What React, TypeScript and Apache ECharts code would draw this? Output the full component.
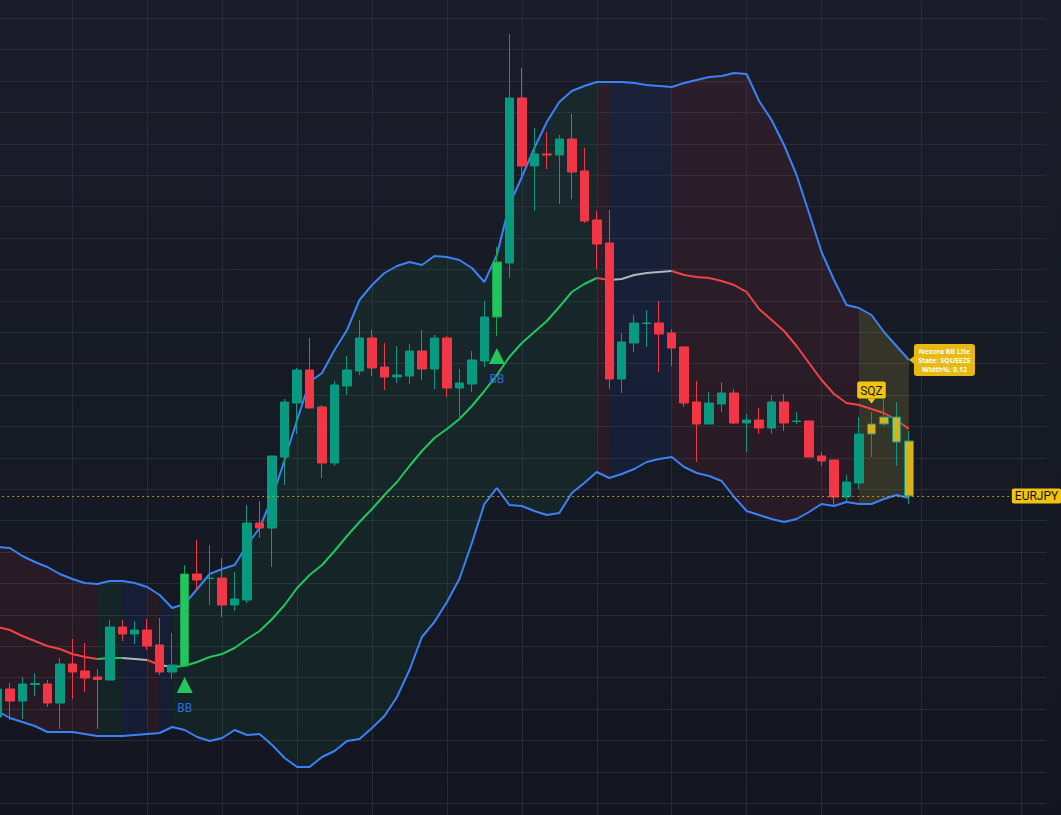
import React, { useEffect, useRef } from "react";
import * as echarts from "echarts";

// ---- categories (bar numbers, first bar is partially off-screen) ----
const categories: string[] = Array.from({ length: 85 }, (_, k) => String(k - 1));

// ---- OHLC: [open, close, low, high] (EURJPY) ----
const ohlc: number[][] = [
  [161.566, 161.622, 161.556, 161.640],
  [161.622, 161.598, 161.560, 161.634],
  [161.598, 161.632, 161.562, 161.646],
  [161.631, 161.633, 161.608, 161.654],
  [161.632, 161.594, 161.586, 161.640],
  [161.594, 161.672, 161.542, 161.684],
  [161.672, 161.656, 161.602, 161.722],
  [161.658, 161.644, 161.616, 161.714],
  [161.646, 161.641, 161.542, 161.662],
  [161.640, 161.746, 161.640, 161.760],
  [161.746, 161.732, 161.718, 161.760],
  [161.732, 161.740, 161.712, 161.758],
  [161.740, 161.708, 161.700, 161.762],
  [161.710, 161.656, 161.650, 161.764],
  [161.656, 161.670, 161.642, 161.734],
  [161.668, 161.852, 161.666, 161.870],
  [161.852, 161.840, 161.820, 161.920],
  [161.843, 161.844, 161.790, 161.910],
  [161.844, 161.790, 161.766, 161.884],
  [161.790, 161.802, 161.778, 161.856],
  [161.800, 161.954, 161.794, 161.990],
  [161.954, 161.944, 161.924, 161.998],
  [161.944, 162.088, 161.866, 162.088],
  [162.086, 162.196, 162.030, 162.202],
  [162.194, 162.260, 162.132, 162.264],
  [162.260, 162.184, 162.184, 162.324],
  [162.186, 162.074, 162.044, 162.190],
  [162.074, 162.230, 162.068, 162.238],
  [162.228, 162.260, 162.210, 162.288],
  [162.258, 162.324, 162.250, 162.360],
  [162.324, 162.264, 162.248, 162.340],
  [162.266, 162.246, 162.220, 162.314],
  [162.246, 162.250, 162.234, 162.308],
  [162.248, 162.298, 162.232, 162.312],
  [162.298, 162.262, 162.240, 162.340],
  [162.262, 162.324, 162.222, 162.330],
  [162.324, 162.224, 162.206, 162.328],
  [162.224, 162.234, 162.162, 162.262],
  [162.232, 162.280, 162.216, 162.298],
  [162.278, 162.366, 162.266, 162.398],
  [162.366, 162.476, 162.328, 162.506],
  [162.474, 162.804, 162.444, 162.932],
  [162.804, 162.668, 162.646, 162.864],
  [162.668, 162.692, 162.578, 162.744],
  [162.692, 162.690, 162.662, 162.736],
  [162.690, 162.722, 162.592, 162.730],
  [162.722, 162.656, 162.602, 162.772],
  [162.658, 162.558, 162.554, 162.704],
  [162.560, 162.512, 162.462, 162.578],
  [162.514, 162.242, 162.222, 162.580],
  [162.242, 162.316, 162.214, 162.334],
  [162.314, 162.354, 162.296, 162.370],
  [162.353, 162.354, 162.306, 162.380],
  [162.354, 162.332, 162.256, 162.398],
  [162.334, 162.304, 162.268, 162.342],
  [162.306, 162.194, 162.186, 162.308],
  [162.196, 162.152, 162.076, 162.238],
  [162.152, 162.194, 162.152, 162.216],
  [162.192, 162.214, 162.176, 162.236],
  [162.214, 162.154, 162.152, 162.222],
  [162.154, 162.160, 162.096, 162.172],
  [162.160, 162.144, 162.132, 162.184],
  [162.144, 162.196, 162.132, 162.210],
  [162.196, 162.154, 162.138, 162.212],
  [162.157, 162.158, 162.152, 162.176],
  [162.158, 162.086, 162.086, 162.158],
  [162.088, 162.078, 162.068, 162.096],
  [162.080, 162.006, 161.986, 162.080],
  [162.006, 162.036, 161.998, 162.050],
  [162.034, 162.132, 162.022, 162.166],
  [162.132, 162.152, 162.086, 162.176],
  [162.152, 162.166, 162.148, 162.218],
  [162.166, 162.116, 162.068, 162.196],
  [162.118, 162.008, 161.992, 162.138],
];

// ---- Bollinger bands ----
const upperBand: number[] = [
  161.906, 161.904, 161.888, 161.876, 161.866, 161.852, 161.842, 161.834, 161.832, 161.838,
  161.838, 161.834, 161.826, 161.810, 161.784, 161.792, 161.822, 161.852, 161.862, 161.870,
  161.910, 161.944, 162.004, 162.080, 162.160, 162.236, 162.254, 162.300, 162.340, 162.400,
  162.430, 162.454, 162.468, 162.476, 162.470, 162.488, 162.486, 162.480, 162.464, 162.436,
  162.490, 162.590, 162.646, 162.704, 162.756, 162.796, 162.818, 162.828, 162.836, 162.836,
  162.836, 162.834, 162.830, 162.828, 162.826, 162.834, 162.840, 162.846, 162.848, 162.854,
  162.852, 162.798, 162.760, 162.710, 162.650, 162.574, 162.496, 162.440, 162.390, 162.384,
  162.370, 162.336, 162.308, 162.280,
];
const basisBand: number[] = [
  161.746, 161.740, 161.728, 161.718, 161.708, 161.702, 161.692, 161.686, 161.682, 161.684,
  161.684, 161.682, 161.680, 161.670, 161.666, 161.668, 161.676, 161.686, 161.692, 161.704,
  161.722, 161.738, 161.762, 161.790, 161.824, 161.850, 161.870, 161.898, 161.928, 161.956,
  161.982, 162.010, 162.036, 162.068, 162.098, 162.124, 162.142, 162.162, 162.188, 162.218,
  162.250, 162.286, 162.314, 162.336, 162.358, 162.386, 162.416, 162.432, 162.444, 162.440,
  162.442, 162.450, 162.454, 162.456, 162.458, 162.450, 162.446, 162.444, 162.438, 162.430,
  162.416, 162.382, 162.360, 162.338, 162.308, 162.274, 162.240, 162.212, 162.194, 162.190,
  162.182, 162.174, 162.160, 162.142,
];
const lowerBand: number[] = [
  161.578, 161.564, 161.556, 161.548, 161.536, 161.536, 161.536, 161.532, 161.528, 161.528,
  161.528, 161.530, 161.532, 161.534, 161.546, 161.540, 161.526, 161.518, 161.524, 161.540,
  161.530, 161.532, 161.510, 161.484, 161.466, 161.466, 161.486, 161.498, 161.518, 161.522,
  161.544, 161.568, 161.606, 161.660, 161.726, 161.756, 161.796, 161.842, 161.914, 161.992,
  162.024, 161.990, 161.988, 161.978, 161.970, 161.974, 162.014, 162.034, 162.056, 162.044,
  162.052, 162.062, 162.076, 162.082, 162.086, 162.066, 162.054, 162.048, 162.038, 162.006,
  161.978, 161.970, 161.962, 161.956, 161.962, 161.976, 161.992, 161.988, 161.996, 161.992,
  161.992, 162.002, 162.010, 162.004,
];

// ---- indicator state per bar: D=down, U=up, N=neutral, S=squeeze ----
const stateRuns: [string, number][] = [
  ["D", 9], ["U", 2], ["N", 2], ["D", 1], ["N", 1], ["U", 34],
  ["D", 1], ["N", 5], ["D", 15], ["S", 4],
];

// ---- signals ----
const signalIdx: number[] = [15, 40];
const signalPrices: number[] = [161.63, 162.288];
const sqzIdx = 70;
const sqzPrice = 162.198;
const infoIdx = 73;
const infoText = ["Nexora BB Lite", "State: SQUEEZE", "Width%: 0.12"];
const symbolName = "EURJPY";
const priceLineEndIdx = 81;

// vertical grid lines at these category indices
const vGridIdx: number[] = [6, 12, 18, 24, 30, 36, 42, 48, 54, 60, 66, 74, 82];

// y-axis
const yMin = 161.3306;
const yMax = 163.0262;
const yStep = 0.0628;

const UP = "#089981";
const DN = "#f23645";
const SIG = "#22c55e";
const SQZ_FILL = "#d7b21e";
const YEL = "#f2c30f";
const INFO_YEL = "#e9b913";
const BLUE = "#3b82f6";
const GRID = "#272b37";

// the chart canvas is a little larger than the page so that grid lines run to the edges
const PAD = 20;

const fillColor: Record<string, string> = {
  D: "rgba(242,54,69,0.085)",
  U: "rgba(34,197,94,0.07)",
  N: "rgba(41,98,255,0.08)",
  S: "rgba(255,235,59,0.13)",
};
const midColor: Record<string, string> = { D: "#ef4444", S: "#ef4444", U: "#22c55e", N: "#b2b5be" };

function buildOption() {
  const states: string[] = [];
  stateRuns.forEach(([s, n]) => {
    for (let k = 0; k < n; k++) states.push(s);
  });

  const runs = (keyOf: (s: string) => string) => {
    const out: { from: number; to: number; key: string }[] = [];
    let start = 0;
    for (let k = 1; k <= states.length; k++) {
      if (k === states.length || keyOf(states[k]) !== keyOf(states[start])) {
        out.push({ from: Math.max(start - 1, 0), to: k - 1, key: keyOf(states[start]) });
        start = k;
      }
    }
    return out;
  };
  const fillZones = runs((s) => s);
  const midRuns = runs((s) => midColor[s]);

  const candleData = ohlc.map((v, k) => {
    if (signalIdx.includes(k))
      return { value: v, itemStyle: { color: SIG, color0: SIG, borderColor: "#17a34a", borderColor0: "#17a34a" } };
    if (states[k] === "S")
      return { value: v, itemStyle: { color: SQZ_FILL, color0: SQZ_FILL, borderColor: UP, borderColor0: DN } };
    return v;
  });

  const lastClose = ohlc[ohlc.length - 1][1];

  return {
    animation: false,
    backgroundColor: "transparent",
    grid: { left: PAD - 2.62, right: PAD + 14.7, top: PAD - 13.1, bottom: PAD - 19.7, containLabel: false },
    xAxis: {
      type: "category",
      data: categories,
      boundaryGap: false,
      axisLine: { show: false },
      axisTick: { show: false },
      axisLabel: { show: false },
      splitLine: {
        show: true,
        interval: (index: number) => vGridIdx.includes(index),
        lineStyle: { color: GRID, width: 1 },
      },
    },
    yAxis: {
      type: "value",
      min: yMin,
      max: yMax,
      interval: yStep,
      axisLine: { show: false },
      axisTick: { show: false },
      axisLabel: { show: false },
      splitLine: { show: true, lineStyle: { color: GRID, width: 1 } },
    },
    series: [
      {
        type: "custom",
        name: "bandFill",
        silent: true,
        z: 1,
        data: fillZones.map((z) => [z.from, upperBand[z.from]]),
        renderItem: (params: any, api: any) => {
          const z = fillZones[params.dataIndex];
          const pts: number[][] = [];
          for (let k = z.from; k <= z.to; k++) pts.push(api.coord([k, upperBand[k]]));
          for (let k = z.to; k >= z.from; k--) pts.push(api.coord([k, lowerBand[k]]));
          return { type: "polygon", shape: { points: pts }, style: { fill: fillColor[z.key] } };
        },
      },
      {
        type: "line",
        name: "upper",
        data: upperBand,
        symbol: "none",
        silent: true,
        z: 2,
        lineStyle: { color: BLUE, width: 2 },
      },
      {
        type: "line",
        name: "lower",
        data: lowerBand,
        symbol: "none",
        silent: true,
        z: 2,
        lineStyle: { color: BLUE, width: 2 },
      },
      {
        type: "custom",
        name: "basis",
        silent: true,
        z: 2,
        data: midRuns.map((r) => [r.from, basisBand[r.from]]),
        renderItem: (params: any, api: any) => {
          const r = midRuns[params.dataIndex];
          const pts: number[][] = [];
          for (let k = r.from; k <= r.to; k++) pts.push(api.coord([k, basisBand[k]]));
          return {
            type: "polyline",
            shape: { points: pts },
            style: { stroke: r.key, lineWidth: 2, fill: null, lineJoin: "round" },
          };
        },
      },
      {
        type: "candlestick",
        name: symbolName,
        data: candleData,
        barWidth: 9,
        silent: true,
        z: 3,
        itemStyle: { color: UP, color0: DN, borderColor: UP, borderColor0: DN, borderWidth: 1 },
        markLine: {
          silent: true,
          symbol: ["none", "none"],
          animation: false,
          lineStyle: { color: "#d9b21c", type: [1.5, 3.5], width: 1, opacity: 1 },
          label: {
            show: true,
            position: "end",
            formatter: symbolName,
            backgroundColor: YEL,
            color: "#161616",
            fontFamily: "Roboto",
            fontSize: 12,
            padding: [2, 3, 1, 3],
            borderRadius: 2,
            distance: 3,
          },
          data: [[{ coord: [0, lastClose] }, { coord: [priceLineEndIdx, lastClose] }]],
        },
      },
      {
        type: "scatter",
        name: "signals",
        silent: true,
        z: 4,
        data: signalIdx.map((k, j) => [k, signalPrices[j]]),
        symbol: "triangle",
        symbolSize: [16, 16],
        itemStyle: { color: SIG, opacity: 1 },
        label: {
          show: true,
          position: "bottom",
          distance: 9,
          formatter: "BB",
          color: "#2f6ce0",
          fontFamily: "Roboto",
          fontSize: 12,
        },
      },
      {
        type: "scatter",
        name: "sqz",
        silent: true,
        z: 5,
        data: [[sqzIdx, sqzPrice]],
        symbol: "triangle",
        symbolRotate: 180,
        symbolSize: [8, 5],
        itemStyle: { color: YEL, opacity: 1 },
        label: {
          show: true,
          position: "top",
          distance: 0,
          formatter: "SQZ",
          backgroundColor: YEL,
          color: "#1c1c1c",
          fontFamily: "Roboto",
          fontSize: 12,
          padding: [3, 3, 2, 3],
          borderRadius: 2,
        },
      },
      {
        type: "scatter",
        name: "info",
        silent: true,
        z: 5,
        data: [[infoIdx, upperBand[infoIdx]]],
        symbol: "triangle",
        symbolRotate: 90,
        symbolSize: [9, 6],
        symbolOffset: [3, 0],
        itemStyle: { color: INFO_YEL, opacity: 1 },
        label: {
          show: true,
          position: "right",
          distance: -1,
          formatter: infoText.map((t) => `{a|${t}}`).join("\n"),
          backgroundColor: INFO_YEL,
          padding: [3, 4, 2, 4],
          borderRadius: 3,
          rich: {
            a: {
              color: "#ffffff",
              fontFamily: "Noto Sans",
              fontWeight: "bold",
              fontSize: 7,
              lineHeight: 9,
              width: 53,
              align: "center",
            },
          },
        },
      },
    ],
  };
}

export default function App() {
  const ref = useRef<HTMLDivElement>(null);
  useEffect(() => {
    if (!ref.current) return;
    const chart = echarts.init(ref.current, undefined, { renderer: "svg" });
    chart.setOption(buildOption() as any);
    return () => chart.dispose();
  }, []);
  return (
    <div
      ref={ref}
      style={{
        position: "fixed",
        left: -PAD,
        top: -PAD,
        width: 1061 + 2 * PAD,
        height: 815 + 2 * PAD,
        background: "linear-gradient(180deg, #1a1d29 0%, #161a25 50%, #131621 100%)",
      }}
    />
  );
}
